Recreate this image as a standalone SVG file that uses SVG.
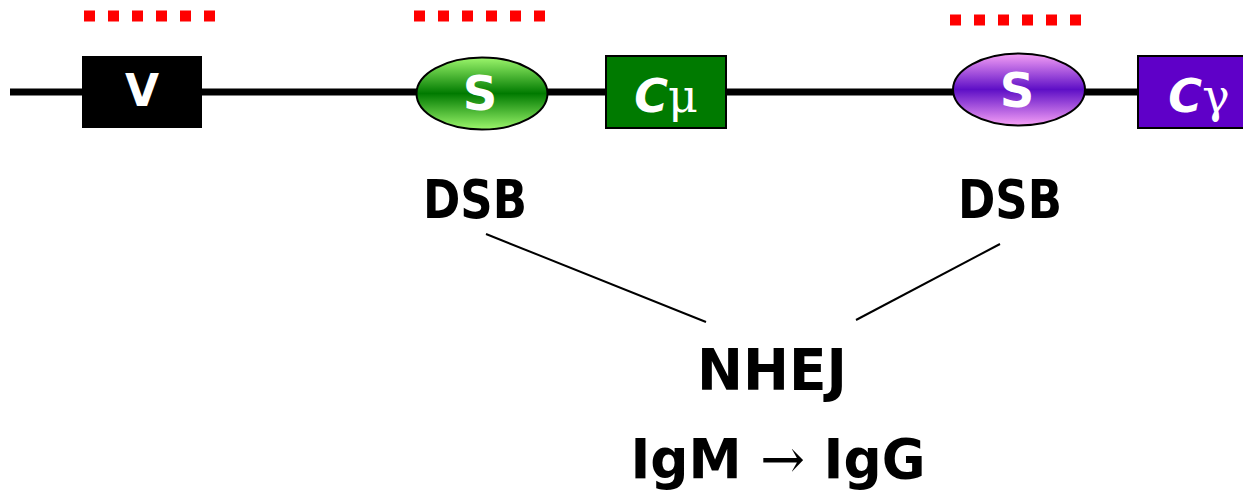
<svg xmlns="http://www.w3.org/2000/svg" width="1243" height="493" viewBox="0 0 1243 493">
<style>
.lbl{font-family:"DejaVu Sans","Liberation Sans",sans-serif;font-weight:bold;fill:#000;text-anchor:middle}
.wl{font-family:"DejaVu Sans","Liberation Sans",sans-serif;font-weight:bold;fill:#fff;text-anchor:middle}
.dots{stroke:#ff0000;stroke-width:11;stroke-dasharray:11 13;fill:none}
.box{stroke:#000;stroke-width:2}
.conn{stroke:#000;stroke-width:2;fill:none}
</style>
<defs>
<linearGradient id="gGreen" x1="0" y1="0" x2="0" y2="1">
<stop offset="0" stop-color="#9cf66c"/>
<stop offset="0.5" stop-color="#007a00"/>
<stop offset="1" stop-color="#9cf66c"/>
</linearGradient>
<linearGradient id="gPurple" x1="0" y1="0" x2="0" y2="1">
<stop offset="0" stop-color="#f6a0f6"/>
<stop offset="0.5" stop-color="#5e0fc6"/>
<stop offset="1" stop-color="#f6a0f6"/>
</linearGradient>
</defs>
<rect width="1243" height="493" fill="#fff"/>
<g id="backbone">
<line x1="10" y1="92" x2="1243" y2="92" stroke="#000" stroke-width="7"/>
</g>
<g id="marks">
<line class="dots" x1="84" y1="16" x2="215" y2="16"/>
<line class="dots" x1="414" y1="16" x2="545" y2="16"/>
<line class="dots" x1="950" y1="20" x2="1081" y2="20"/>
</g>
<g id="node-V">
<rect x="82" y="56" width="120" height="72" fill="#000"/>
<text class="wl" x="142" y="106" font-size="44">V</text>
</g>
<g id="node-S1">
<ellipse cx="482" cy="93.5" rx="65.5" ry="36" fill="url(#gGreen)" stroke="#000" stroke-width="2"/>
<text class="wl" x="480" y="110" font-size="48">S</text>
</g>
<g id="node-Cmu">
<rect class="box" x="606" y="56" width="120" height="72" fill="#007a00"/>
<text class="wl" x="666" y="112" font-size="46"><tspan font-style="italic">C</tspan><tspan font-family="'DejaVu Serif',serif" font-weight="normal">μ</tspan></text>
</g>
<g id="node-S2">
<ellipse cx="1019" cy="89.5" rx="66" ry="36" fill="url(#gPurple)" stroke="#000" stroke-width="2"/>
<text class="wl" x="1017" y="107" font-size="48">S</text>
</g>
<g id="node-Cgamma">
<rect class="box" x="1138" y="56" width="110" height="72" fill="#5f00c8"/>
<text class="wl" x="1199" y="112" font-size="46"><tspan font-style="italic">C</tspan><tspan font-family="'DejaVu Serif',serif" font-weight="normal">γ</tspan></text>
</g>
<g id="node-DSB1">
<text class="lbl" x="475" y="218" font-size="54" textLength="104" lengthAdjust="spacingAndGlyphs">DSB</text>
</g>
<g id="node-DSB2">
<text class="lbl" x="1010" y="218" font-size="54" textLength="104" lengthAdjust="spacingAndGlyphs">DSB</text>
</g>
<g id="node-NHEJ">
<text class="lbl" x="772" y="390" font-size="57" textLength="150" lengthAdjust="spacingAndGlyphs">NHEJ</text>
</g>
<g id="node-result">
<text class="lbl" x="778" y="478" font-size="55" textLength="295" lengthAdjust="spacingAndGlyphs">IgM <tspan font-weight="normal" font-family="'DejaVu Serif',serif">→</tspan> IgG</text>
</g>
<g id="connectors">
<line class="conn" x1="486" y1="234" x2="706" y2="322"/>
<line class="conn" x1="1000" y1="244" x2="856" y2="320"/>
</g>
</svg>
